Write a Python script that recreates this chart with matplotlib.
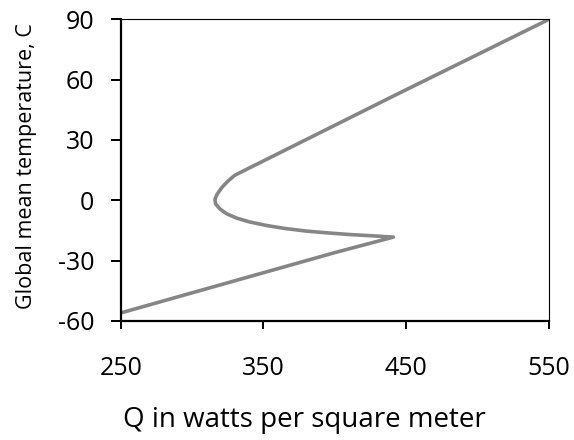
import matplotlib
matplotlib.use("Agg")
from matplotlib import pyplot as plt

# solar input Q vs global mean temperature
q_vals = [250, 300, 350, 400, 441, 425, 410, 395, 380, 365, 352, 340, 331, 324, 319.5, 316.5, 316, 317.5, 321, 325, 330, 440, 550]
t_vals = [-56, -46, -36, -26, -18.3, -17.6, -17.0, -16.2, -15.3, -14.0, -12.5, -10.7, -8.8, -6.6, -4.3, -1.8, 0.5, 3, 6.5, 9.5, 12.5, 51.5, 90]

x_ticks = [250, 350, 450, 550]
y_ticks = [-60, -30, 0, 30, 60, 90]

plt.rcParams['font.family'] = ['Open Sans', 'DejaVu Sans']
plt.rcParams['axes.unicode_minus'] = False

fig = plt.figure(figsize=(5.74, 4.40), dpi=100)
ax = fig.add_axes([0.2103, 0.2705, 0.7461, 0.6856])

ax.plot(q_vals, t_vals, color='#868686', lw=2.6, solid_capstyle='butt', solid_joinstyle='round')

ax.set_xlim(250, 550)
ax.set_ylim(-60, 90)
ax.set_xticks(x_ticks)
ax.set_yticks(y_ticks)
ax.tick_params(axis='x', direction='out', length=6, width=1.4, pad=19, labelsize=18)
ax.tick_params(axis='y', direction='out', length=7, width=1.4, pad=12, labelsize=18)

for s in ['left', 'bottom']:
    ax.spines[s].set_linewidth(1.6)
for s in ['top', 'right']:
    ax.spines[s].set_linewidth(0.8)

ax.set_xlabel("Q in watts per square meter", fontsize=20, va='center')
ax.xaxis.set_label_coords(0.43, -0.328)
ax.set_ylabel("Global mean temperature, C", fontsize=15.5, va='center')
ax.yaxis.set_label_coords(-0.221, 0.512)

fig.savefig("out.png", dpi=100)
